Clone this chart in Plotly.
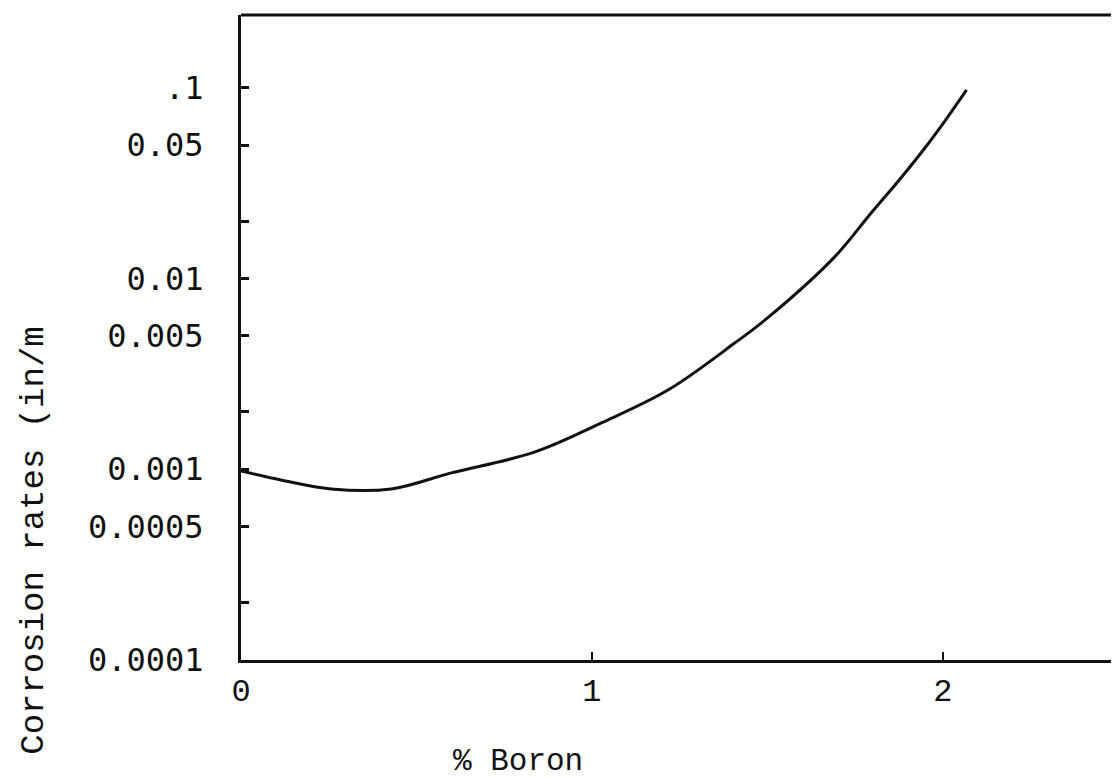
import plotly.graph_objects as go

# Data (% boron vs corrosion rate, in/m)
boron_pct = [0.0, 0.114, 0.257, 0.428, 0.599, 0.836, 1.027, 1.218, 1.407,
             1.504, 1.692, 1.789, 1.883, 1.949, 2.006, 2.068]
corrosion_rate = [0.00098, 0.000879, 0.000789, 0.000789, 0.000957, 0.00123,
                  0.00175, 0.00261, 0.00459, 0.00629, 0.0130, 0.0213, 0.0341,
                  0.0484, 0.0670, 0.0975]

y_tickvals = [0.1, 0.05, 0.02, 0.01, 0.005, 0.002, 0.001, 0.0005, 0.0002, 0.0001]
y_ticktext = [".1", "0.05", "", "0.01", "0.005", "", "0.001", "0.0005", "", "0.0001"]
x_tickvals = [0, 1, 2]
x_ticktext = ["0", "1", "2"]

fig = go.Figure()
fig.add_trace(go.Scatter(
    x=boron_pct, y=corrosion_rate, mode="lines",
    line=dict(color="#111111", width=3, shape="spline", smoothing=1.0),
    showlegend=False, hoverinfo="skip",
))

fig.update_layout(
    width=1113, height=770,
    margin=dict(l=233, r=0, t=7, b=118),
    paper_bgcolor="white", plot_bgcolor="white",
    showlegend=False,
)

fig.update_xaxes(
    range=[0, 2.508], showgrid=False, zeroline=False,
    showline=True, linecolor="#111111", linewidth=3,
    ticks="inside", ticklen=8, tickwidth=2, tickcolor="#111111",
    tickvals=x_tickvals, ticktext=x_ticktext,
    tickfont=dict(family="Liberation Mono", size=32, color="#111111"),
    ticklabelstandoff=0,
)
fig.update_yaxes(
    type="log", range=[-4, -0.618], showgrid=False, zeroline=False,
    showline=True, linecolor="#111111", linewidth=3,
    ticks="inside", ticklen=8, tickwidth=3, tickcolor="#111111",
    tickvals=y_tickvals, ticktext=y_ticktext,
    tickfont=dict(family="DejaVu Sans Mono", size=32, color="#111111"),
    ticklabelstandoff=28,
)

# top frame line
fig.add_shape(type="line", xref="paper", yref="paper", x0=0, x1=1, y0=1, y1=1,
              line=dict(color="#111111", width=3))

fig.add_annotation(text="% Boron", xref="paper", yref="paper",
                   x=0.315, y=-0.158, xanchor="center", yanchor="middle",
                   showarrow=False,
                   font=dict(family="Liberation Mono", size=31, color="#111111"))
fig.add_annotation(text="Corrosion rates (in/m", xref="paper", yref="paper",
                   x=-0.2355, y=0.1845, xanchor="center", yanchor="middle",
                   textangle=-90, showarrow=False,
                   font=dict(family="Liberation Mono", size=34, color="#111111"))

fig.write_html("out.html")
